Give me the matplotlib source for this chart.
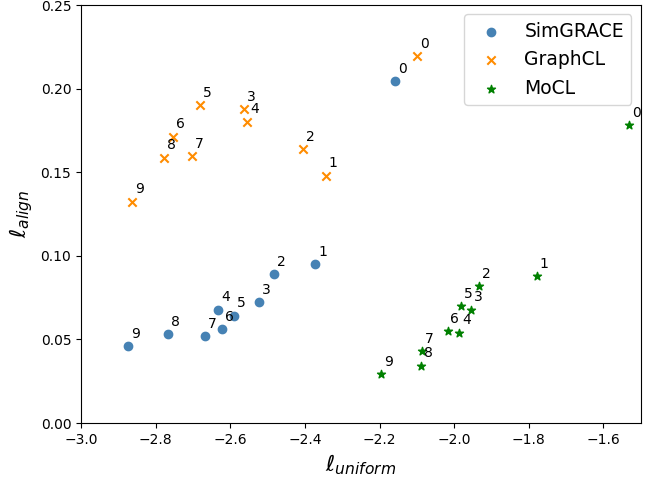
import numpy as np
import matplotlib
matplotlib.use('Agg')
import matplotlib.pyplot as plt

# Data
idx = [0, 1, 2, 3, 4, 5, 6, 7, 8, 9]

simgrace_x = [-2.158, -2.373, -2.484, -2.523, -2.633, -2.590, -2.621, -2.668, -2.766, -2.873]
simgrace_y = [0.2044, 0.0951, 0.0891, 0.0724, 0.0678, 0.0642, 0.0562, 0.0518, 0.0530, 0.0460]

graphcl_x = [-2.099, -2.344, -2.404, -2.564, -2.554, -2.681, -2.754, -2.703, -2.777, -2.863]
graphcl_y = [0.2193, 0.1479, 0.1639, 0.1876, 0.1802, 0.1900, 0.1712, 0.1597, 0.1587, 0.1324]

mocl_x = [-1.531, -1.779, -1.934, -1.954, -1.986, -1.981, -2.018, -2.087, -2.089, -2.197]
mocl_y = [0.1782, 0.0877, 0.0819, 0.0678, 0.0540, 0.0698, 0.0550, 0.0431, 0.0343, 0.0293]

fig = plt.figure(figsize=(6.62, 4.78), dpi=100)
ax = fig.add_axes([0.1224, 0.115, 0.8456, 0.8745])

ax.scatter(simgrace_x, simgrace_y, marker='o', color='steelblue', label='SimGRACE')
ax.scatter(graphcl_x, graphcl_y, marker='x', color='darkorange', label='GraphCL')
ax.scatter(mocl_x, mocl_y, marker='*', color='green', label='MoCL')

# point labels
for xs, ys in [(simgrace_x, simgrace_y), (graphcl_x, graphcl_y), (mocl_x, mocl_y)]:
    for i, x, y in zip(idx, xs, ys):
        ax.text(x + 0.008, y + 0.005, str(i), fontsize=10)

ax.set_xlim(-3.0, -1.5)
ax.set_ylim(0.0, 0.25)
ax.set_xlabel(r'$\ell_{uniform}$', fontsize=16)
ax.set_ylabel(r'$\ell_{align}$', fontsize=16)
ax.legend(loc='upper right', fontsize=13.5)

fig.savefig('out.png', dpi=100)
